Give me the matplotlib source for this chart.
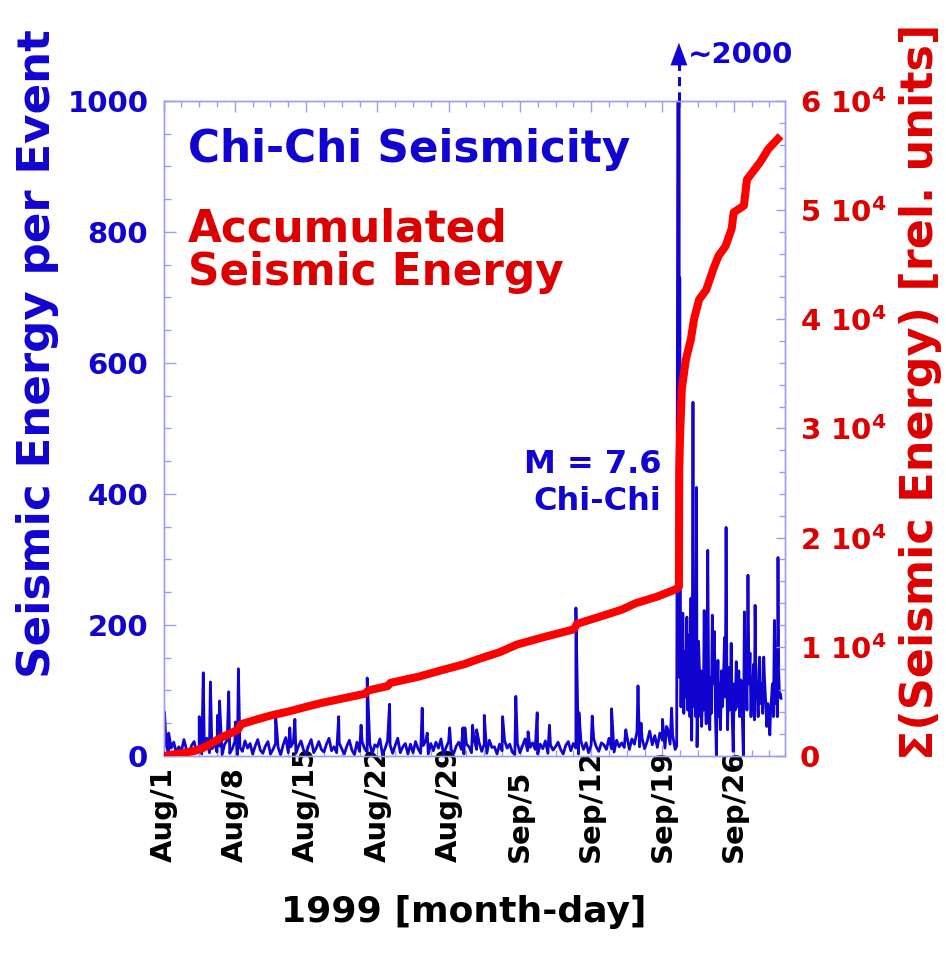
import numpy as np
import matplotlib.pyplot as plt
from matplotlib.ticker import MultipleLocator

## days are counted from 1999 Aug 1 00:00
day_ticks = [0, 7, 14, 21, 28, 35, 42, 49, 56]
day_labels = ['Aug/1', 'Aug/8', 'Aug/15', 'Aug/22', 'Aug/29',
              'Sep/5', 'Sep/12', 'Sep/19', 'Sep/26']

## background energy per event before the main shock (one value per 6 h)
base_vals = [
    8, 17, 4, 12, 21, 5, 14, 7, 25, 10, 3, 16, 22, 6, 12, 3, 18, 27, 5, 11,
    20, 6, 15, 2, 18, 24, 4, 11, 22, 2, 13, 7, 23, 12, 19, 3, 15, 25, 9, 4,
    15, 22, 3, 10, 19, 13, 2, 17, 28, 5, 14, 21, 4, 15, 23, 9, 3, 16, 25, 5,
    12, 22, 10, 6, 18, 27, 8, 14, 5, 20, 11, 3, 15, 24, 9, 2, 21, 7, 22, 11,
    6, 19, 3, 17, 14, 26, 2, 11, 23, 17, 4, 16, 27, 5, 14, 19, 3, 18, 5, 22,
    11, 4, 16, 23, 3, 19, 8, 21, 12, 26, 2, 13, 22, 9, 4, 15, 21, 10, 3, 18,
    14, 5, 25, 10, 20, 7, 18, 4, 24, 13, 14, 3, 18, 8, 23, 12, 18, 6, 2, 19,
    5, 15, 26, 8, 13, 20, 10, 3, 18, 11, 23, 4, 17, 9, 14, 21, 10, 3, 16, 22,
    8, 19, 12, 3, 22, 10, 20, 5, 17, 26, 14, 7, 20, 17, 10, 27, 11, 6, 24, 14,
    20, 13, 31, 10, 26, 18, 37, 14, 27, 11, 22, 38, 17, 31, 13, 35, 24, 12, 42, 18,
    32, 10,
]

## larger events before the main shock
spike_days = [0.1, 0.5, 3.5, 3.9, 4.6, 5.3, 5.5, 6.4, 7.05, 7.35, 11.0, 12.4,
              12.9, 17.2, 19.4, 20.0, 22.2, 25.4, 25.9, 28.1, 29.4, 29.6,
              30.35, 30.75, 31.5, 33.3, 34.6, 35.8, 36.7, 37.9, 40.5, 40.8,
              42.1, 44.0, 45.4, 46.6, 46.9, 49.0, 49.4, 49.9, 50.4]
spike_vals = [67, 35, 60, 127, 113, 62, 84, 98, 52, 133, 64, 43,
              56, 60, 47, 119, 79, 73, 35, 43, 43, 43,
              47, 40, 62, 60, 91, 37, 66, 47, 226, 66,
              61, 72, 40, 107, 50, 56, 45, 73, 15]

## main shock and aftershocks
post_days = [
    50.62, 50.66, 50.70, 50.76, 50.82, 50.88, 50.94, 51.0, 51.05, 51.1,
    51.18, 51.25, 51.32, 51.4, 51.47, 51.55, 51.62, 51.7, 51.8, 51.87,
    51.93, 52.0, 52.07, 52.15, 52.22, 52.28, 52.35, 52.4, 52.47, 52.55,
    52.65, 52.72, 52.8, 52.85, 52.95, 53.02, 53.1, 53.2, 53.3, 53.38,
    53.45, 53.55, 53.65, 53.72, 53.8, 53.9, 54.0, 54.1, 54.2, 54.3,
    54.38, 54.45, 54.55, 54.62, 54.7, 54.8, 54.9, 55.0, 55.1, 55.18,
    55.25, 55.33, 55.4, 55.5, 55.6, 55.68, 55.75, 55.85, 55.95, 56.05,
    56.15, 56.25, 56.32, 56.4, 56.5, 56.6, 56.7, 56.8, 56.88, 56.95,
    57.05, 57.12, 57.2, 57.3, 57.4, 57.5, 57.6, 57.7, 57.78, 57.85,
    57.95, 58.03, 58.1, 58.2, 58.3, 58.4, 58.48, 58.55, 58.65, 58.75,
    58.85, 58.95, 59.02, 59.1, 59.18, 59.25, 59.35, 59.45, 59.55, 59.62,
    59.7, 59.8, 59.9, 60.0, 60.1, 60.2, 60.28, 60.35, 60.42, 60.5,
    60.58, 60.65,
]
post_vals = [
    2000, 120, 730, 258, 75, 180, 110, 218, 140, 65,
    160, 90, 130, 212, 70, 100, 185, 60, 241, 24,
    120, 540, 95, 75, 150, 60, 410, 14, 80, 175,
    121, 60, 130, 45, 105, 70, 222, 90, 49, 150,
    314, 85, 40, 120, 65, 215, 110, 190, 70, 0,
    95, 146, 60, 110, 40, 130, 75, 120, 181, 90,
    349, 110, 40, 135, 70, 100, 172, 60, 7, 110,
    70, 144, 95, 75, 130, 60, 116, 85, 40, 0,
    220, 100, 150, 70, 276, 110, 157, 60, 120, 85,
    140, 55, 230, 90, 100, 60, 130, 151, 80, 110,
    65, 151, 120, 96, 70, 45, 80, 60, 32, 70,
    85, 110, 60, 207, 80, 116, 60, 303, 130, 90,
    95, 88,
]

## accumulated seismic energy
cum_days = [0, 1, 2, 3, 3.8, 4.6, 5.5, 6.4, 7.3, 7.6, 9, 10.5, 12.4, 14, 15.5,
            17, 19.8, 20.1, 22, 22.3, 25, 27.5, 29.5, 31, 33, 34.7, 37, 40.3,
            40.6, 43, 45, 46.4, 48.5, 50.4, 50.62, 50.65, 50.72, 50.9, 51.3,
            51.8, 52.1, 52.6, 53.3, 54.0, 54.5, 55.2, 55.8, 56.0, 57.0, 57.3,
            58.6, 59.4, 60.6]
cum_vals = [0, 150, 300, 450, 700, 1100, 1600, 2000, 2400, 2900, 3300, 3700,
            4100, 4500, 4850, 5150, 5700, 6000, 6400, 6700, 7250, 7900, 8400,
            8900, 9500, 10200, 10800, 11600, 12100, 12800, 13400, 14000, 14600,
            15300, 15500, 26000, 29000, 33600, 36300, 38200, 40000, 41800,
            42700, 44600, 45800, 46700, 48300, 49800, 50400, 52800, 54400,
            55600, 56800]

blue = '#1204d0'
red_line = '#ff0000'
red_text = '#dd0000'
frame = '#9c9cf2'

plt.rcParams['font.family'] = 'DejaVu Sans'
plt.rcParams['font.weight'] = 'bold'
plt.rcParams['axes.labelweight'] = 'bold'
plt.rcParams['mathtext.default'] = 'bf'

## merge background and spikes into one time series
base_days = np.arange(len(base_vals)) * 0.25
days = np.concatenate([base_days, spike_days, post_days])
vals = np.concatenate([base_vals, spike_vals, post_vals])
order = np.argsort(days, kind='stable')
days, vals = days[order], vals[order]

fig = plt.figure(figsize=(9.46, 9.58), dpi=100)
ax = fig.add_axes([0.1729, 0.2109, 0.6565, 0.6837])
ax2 = ax.twinx()

ax.plot(days, vals, color=blue, lw=2.0, zorder=2)
ax2.plot(cum_days, cum_vals, color=red_line, lw=5.8, solid_capstyle='butt', zorder=3)

ax.set_xlim(0, 61)
ax.set_ylim(0, 1000)
ax2.set_ylim(0, 60000)

## frame and ticks
for a in (ax, ax2):
    for sp in a.spines.values():
        sp.set_color(frame)
        sp.set_linewidth(1.0)

ax.set_xticks(day_ticks, day_labels, rotation=90, va='bottom', ha='center',
              fontsize=21, fontweight='bold')
ax.xaxis.set_minor_locator(MultipleLocator(1.75))
ax.yaxis.set_major_locator(MultipleLocator(200))
ax.yaxis.set_minor_locator(MultipleLocator(50))
ax.tick_params(axis='both', which='both', direction='in', color=frame, width=1.0)
ax.tick_params(axis='x', which='both', top=True, pad=76, labelcolor='black')
ax.tick_params(axis='x', which='major', length=8)
ax.tick_params(axis='x', which='minor', length=4)
ax.tick_params(axis='y', which='major', length=8.5, pad=11, labelsize=21, labelcolor=blue)
ax.tick_params(axis='y', which='minor', length=5)

ax2.yaxis.set_minor_locator(MultipleLocator(2000))
ax2.set_yticks(range(0, 70000, 10000),
               ['0'] + ['%d $10^{4}$' % k for k in range(1, 7)])
ax2.tick_params(axis='y', which='both', direction='in', color=frame, width=1.0,
                labelsize=21, labelcolor=red_text, pad=11)
ax2.tick_params(axis='y', which='major', length=6.5)
ax2.tick_params(axis='y', which='minor', length=4)

## axis labels
ax.set_ylabel('Seismic Energy per Event', color=blue, fontsize=32.5, va='center')
ax.yaxis.set_label_coords(-0.2024, 0.615)
ax2.set_ylabel('\u03a3(Seismic Energy) [rel. units]', color=red_text, fontsize=32,
               va='center', rotation=90)
ax2.yaxis.set_label_coords(1.218, 0.556)
ax.set_xlabel('1999 [month-day]', fontsize=26, va='center')
ax.xaxis.set_label_coords(0.4836, -0.238)

## in-plot text
ax.text(0.039, 0.907, 'Chi-Chi Seismicity', transform=ax.transAxes,
        color=blue, fontsize=31.5, va='baseline', ha='left')
ax.text(0.039, 0.785, 'Accumulated', transform=ax.transAxes,
        color=red_text, fontsize=31.5, va='baseline', ha='left')
ax.text(0.039, 0.719, 'Seismic Energy', transform=ax.transAxes,
        color=red_text, fontsize=31.5, va='baseline', ha='left')
ax.text(0.801, 0.432, 'M = 7.6', transform=ax.transAxes,
        color=blue, fontsize=23, va='baseline', ha='right')
ax.text(0.801, 0.376, 'Chi-Chi', transform=ax.transAxes,
        color=blue, fontsize=23, va='baseline', ha='right')

## off-scale main shock: dashed arrow and value
shock_day = post_days[0]
ax.plot([shock_day, shock_day], [1000, 1062], color=blue, lw=2.2, ls=(0, (3, 2)),
        clip_on=False, zorder=4)
ax.annotate('', xy=(shock_day, 1093), xytext=(shock_day, 1055),
            arrowprops=dict(arrowstyle='-|>,head_length=1.6,head_width=0.6',
                            color=blue, lw=0.1),
            annotation_clip=False)
ax.text(shock_day + 0.9, 1058, '~2000', color=blue, fontsize=21,
        va='baseline', ha='left', clip_on=False)

fig.savefig('out.png', dpi=100)
